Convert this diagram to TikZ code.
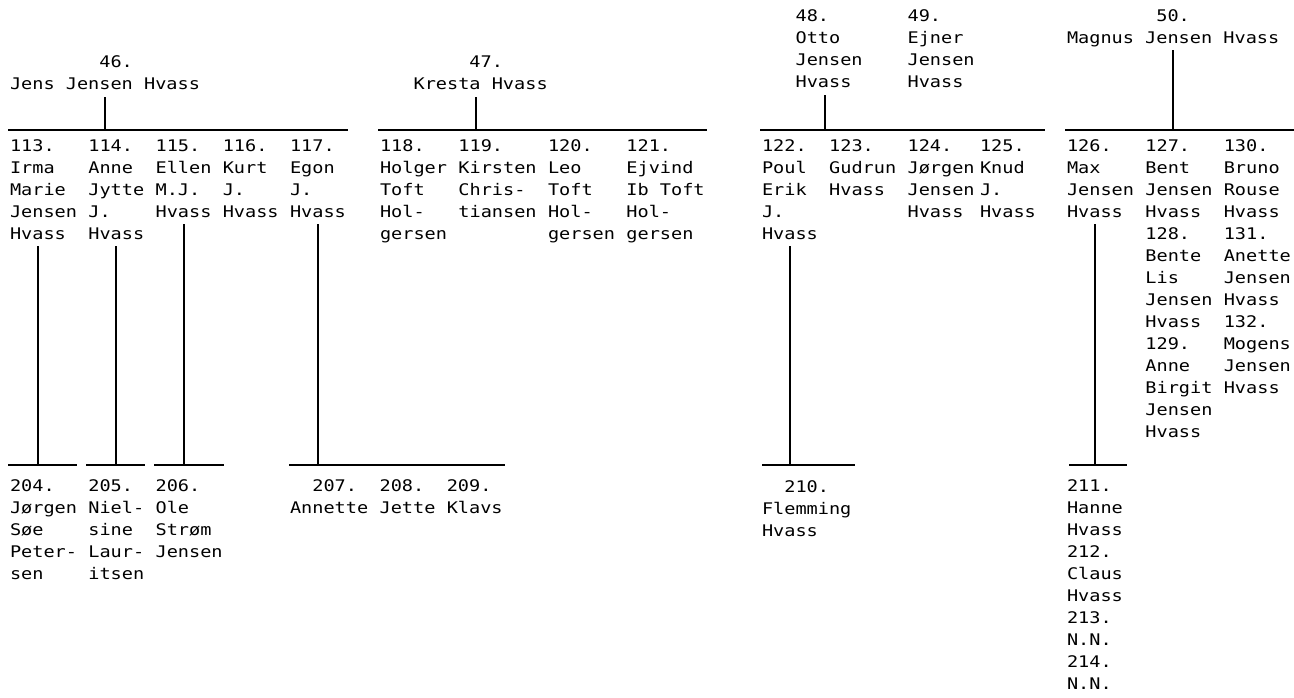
\documentclass[tikz,border=0pt]{standalone}
\usepackage{fontspec}
\newfontfamily\mono[FakeStretch=1.16]{DejaVu Sans Mono}
\tikzset{
  txt/.style={anchor=north west, inner sep=0pt, outer sep=0pt, align=left,
    font=\mono\fontsize{16}{22}\selectfont,
    execute at begin node={\rule{0pt}{13pt}}},
  ln/.style={line width=1.8pt, line cap=butt}
}
\begin{document}
\begin{tikzpicture}[x=1pt,y=-1pt]
\useasboundingbox (0,0) rectangle (1294,697);
% ---- parents ----
\node[txt] (p46) at (10,56) {\phantom{Jens Jen}46.\\Jens Jensen Hvass};
\node[txt] (p47) at (413.6,56) {\phantom{Krest}47.\\Kresta Hvass};
\node[txt] (p48) at (795.6,10) {48.\\Otto\\Jensen\\Hvass};
\node[txt] (p49) at (907.6,10) {49.\\Ejner\\Jensen\\Hvass};
\node[txt] (p50) at (1067,10) {\phantom{Magnus J}50.\\Magnus Jensen Hvass};
% ---- children ----
\node[txt] (p113) at (10,140) {113.\\Irma\\Marie\\Jensen\\Hvass};
\node[txt] (p114) at (88.4,140) {114.\\Anne\\Jytte\\J.\\Hvass};
\node[txt] (p115) at (155.6,140) {115.\\Ellen\\M.J.\\Hvass};
\node[txt] (p116) at (222.8,140) {116.\\Kurt\\J.\\Hvass};
\node[txt] (p117) at (290,140) {117.\\Egon\\J.\\Hvass};
\node[txt] (p118) at (380,140) {118.\\Holger\\Toft\\Hol-\\gersen};
\node[txt] (p119) at (458.4,140) {119.\\Kirsten\\Chris-\\tiansen};
\node[txt] (p120) at (548,140) {120.\\Leo\\Toft\\Hol-\\gersen};
\node[txt] (p121) at (626.4,140) {121.\\Ejvind\\Ib Toft\\Hol-\\gersen};
\node[txt] (p122) at (762,140) {122.\\Poul\\Erik\\J.\\Hvass};
\node[txt] (p123) at (829.2,140) {123.\\Gudrun\\Hvass};
\node[txt] (p124) at (907.6,140) {124.\\Jørgen\\Jensen\\Hvass};
\node[txt] (p125) at (980,140) {125.\\Knud\\J.\\Hvass};
\node[txt] (p126) at (1067,140) {126.\\Max\\Jensen\\Hvass};
\node[txt] (p127) at (1145.4,140) {127.\\Bent\\Jensen\\Hvass};
\node[txt] (p128) at (1145.4,228) {128.\\Bente\\Lis\\Jensen\\Hvass};
\node[txt] (p129) at (1145.4,338) {129.\\Anne\\Birgit\\Jensen\\Hvass};
\node[txt] (p130) at (1223.8,140) {130.\\Bruno\\Rouse\\Hvass};
\node[txt] (p131) at (1223.8,228) {131.\\Anette\\Jensen\\Hvass};
\node[txt] (p132) at (1223.8,316) {132.\\Mogens\\Jensen\\Hvass};
% ---- grandchildren ----
\node[txt] (p204) at (10,480) {204.\\Jørgen\\Søe\\Peter-\\sen};
\node[txt] (p205) at (88.4,480) {205.\\Niel-\\sine\\Laur-\\itsen};
\node[txt] (p206) at (155.6,480) {206.\\Ole\\Strøm\\Jensen};
\node[txt] (p207) at (290,480) {\phantom{An}207.\\Annette};
\node[txt] (p208) at (379.6,480) {208.\\Jette};
\node[txt] (p209) at (446.8,480) {209.\\Klavs};
\node[txt] (p210) at (762,480) {\phantom{Fl}210.\\Flemming\\Hvass};
\node[txt] (p211) at (1067,480) {211.\\Hanne\\Hvass};
\node[txt] (p212) at (1067,546) {212.\\Claus\\Hvass};
\node[txt] (p213) at (1067,612) {213.\\N.N.};
\node[txt] (p214) at (1067,656) {214.\\N.N.};
% ---- junction coordinates ----
\coordinate (s46) at (105,97);   \coordinate (j46) at (105,130);
\coordinate (a46) at (8,130);    \coordinate (b46) at (348,130);
\coordinate (s47) at (476,97);   \coordinate (j47) at (476,130);
\coordinate (a47) at (378,130);  \coordinate (b47) at (707,130);
\coordinate (s48) at (825,95);   \coordinate (j48) at (825,130);
\coordinate (a48) at (760,130);  \coordinate (b48) at (1045,130);
\coordinate (s50) at (1173,50);  \coordinate (j50) at (1173,130);
\coordinate (a50) at (1065,130); \coordinate (b50) at (1294,130);
% lower
\coordinate (t113) at (38,246);   \coordinate (u113) at (38,465);
\coordinate (a204) at (8,465);    \coordinate (b204) at (77,465);
\coordinate (t114) at (116,246);  \coordinate (u114) at (116,465);
\coordinate (a205) at (86,465);   \coordinate (b205) at (145,465);
\coordinate (t115) at (184,224);  \coordinate (u115) at (184,465);
\coordinate (a206) at (154,465);  \coordinate (b206) at (224,465);
\coordinate (t117) at (318,224);  \coordinate (u117) at (318,465);
\coordinate (a207) at (289,465);  \coordinate (b207) at (505,465);
\coordinate (t122) at (790,246);  \coordinate (u122) at (790,465);
\coordinate (a210) at (762,465);  \coordinate (b210) at (855,465);
\coordinate (t126) at (1095,224); \coordinate (u126) at (1095,465);
\coordinate (a211) at (1069,465); \coordinate (b211) at (1127,465);
% ---- lines ----
\draw[ln] (s46) -- (j46); \draw[ln] (a46) -- (b46);
\draw[ln] (s47) -- (j47); \draw[ln] (a47) -- (b47);
\draw[ln] (s48) -- (j48); \draw[ln] (a48) -- (b48);
\draw[ln] (s50) -- (j50); \draw[ln] (a50) -- (b50);
\draw[ln] (t113) -- (u113); \draw[ln] (a204) -- (b204);
\draw[ln] (t114) -- (u114); \draw[ln] (a205) -- (b205);
\draw[ln] (t115) -- (u115); \draw[ln] (a206) -- (b206);
\draw[ln] (t117) -- (u117); \draw[ln] (a207) -- (b207);
\draw[ln] (t122) -- (u122); \draw[ln] (a210) -- (b210);
\draw[ln] (t126) -- (u126); \draw[ln] (a211) -- (b211);
\end{tikzpicture}
\end{document}
